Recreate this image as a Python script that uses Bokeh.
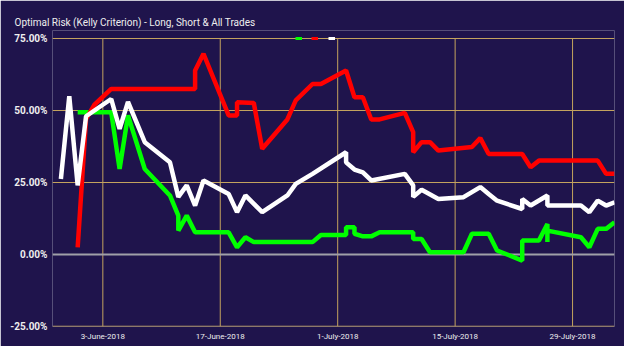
from datetime import datetime
from bokeh.plotting import figure
from bokeh.models import (FixedTicker, DatetimeTickFormatter, PrintfTickFormatter,
                          Span, Legend, LegendItem, Title, Range1d, ColumnDataSource)
from bokeh.embed import file_html
from bokeh.resources import INLINE

# ---------------- data ----------------
title_text = "Optimal Risk (Kelly Criterion) - Long, Short & All Trades"

long_dates = ["2018-05-31", "2018-06-04", "2018-06-05", "2018-06-06", "2018-06-08", "2018-06-11",
              "2018-06-12", "2018-06-12", "2018-06-13", "2018-06-14", "2018-06-18", "2018-06-19",
              "2018-06-20", "2018-06-21", "2018-06-28", "2018-06-29", "2018-07-02", "2018-07-02",
              "2018-07-03", "2018-07-03", "2018-07-04", "2018-07-05", "2018-07-06", "2018-07-10",
              "2018-07-10", "2018-07-11", "2018-07-12", "2018-07-16", "2018-07-17", "2018-07-19",
              "2018-07-20", "2018-07-23", "2018-07-23", "2018-07-25", "2018-07-26", "2018-07-26",
              "2018-07-26", "2018-07-30", "2018-07-31", "2018-08-01", "2018-08-02", "2018-08-03"]
long_vals = [49.4, 49.4, 29.7, 48.3, 29.7, 20.5, 13.5, 8.3, 13.5, 7.7, 7.7, 2.5,
             6.0, 4.3, 4.3, 6.8, 6.8, 9.5, 9.5, 7.2, 6.3, 6.3, 7.7, 7.7,
             5.4, 5.4, 0.8, 0.8, 7.2, 7.2, 1.4, -2.1, 4.9, 4.9, 10.6, 4.3,
             8.3, 6.0, 2.5, 8.9, 8.9, 11.2]

short_dates = ["2018-05-31", "2018-06-01", "2018-06-02", "2018-06-04", "2018-06-14", "2018-06-14",
               "2018-06-15", "2018-06-18", "2018-06-19", "2018-06-19", "2018-06-21", "2018-06-22",
               "2018-06-25", "2018-06-26", "2018-06-28", "2018-06-29", "2018-07-02", "2018-07-03",
               "2018-07-04", "2018-07-05", "2018-07-06", "2018-07-09", "2018-07-10", "2018-07-10",
               "2018-07-11", "2018-07-12", "2018-07-13", "2018-07-17", "2018-07-18", "2018-07-19",
               "2018-07-23", "2018-07-24", "2018-07-25", "2018-08-01", "2018-08-02", "2018-08-03"]
short_vals = [2.5, 47.0, 52.0, 57.5, 57.5, 63.9, 69.7, 48.3, 48.3, 52.9, 52.6, 36.7,
              46.9, 53.5, 59.2, 59.2, 63.9, 54.6, 54.6, 46.9, 46.9, 49.2, 42.5, 35.5,
              39.0, 39.0, 36.1, 37.3, 40.4, 34.9, 34.9, 30.3, 32.6, 32.6, 28.0, 28.0]

all_dates = ["2018-05-29", "2018-05-30", "2018-05-31", "2018-06-01", "2018-06-04", "2018-06-05",
             "2018-06-06", "2018-06-08", "2018-06-11", "2018-06-12", "2018-06-13", "2018-06-14",
             "2018-06-15", "2018-06-18", "2018-06-19", "2018-06-20", "2018-06-22", "2018-06-25",
             "2018-06-26", "2018-06-28", "2018-07-02", "2018-07-02", "2018-07-03", "2018-07-04",
             "2018-07-05", "2018-07-09", "2018-07-10", "2018-07-10", "2018-07-11", "2018-07-13",
             "2018-07-16", "2018-07-18", "2018-07-19", "2018-07-20", "2018-07-23", "2018-07-23",
             "2018-07-24", "2018-07-26", "2018-07-26", "2018-07-30", "2018-07-31", "2018-08-01",
             "2018-08-02", "2018-08-03"]
all_vals = [26.2, 55.0, 24.0, 48.0, 54.0, 43.6, 53.0, 39.0, 32.0, 20.0, 24.0, 17.0,
            25.7, 21.0, 14.7, 20.5, 14.7, 20.5, 24.5, 28.0, 35.5, 32.0, 29.5, 28.5,
            25.7, 28.0, 24.0, 20.0, 22.5, 19.3, 19.9, 23.4, 21.0, 18.7, 15.8, 19.3,
            17.0, 20.5, 17.0, 17.0, 14.7, 18.7, 17.0, 18.1]

series_names = ["Long", "Short", "All"]
series_colors = ["#00ff00", "#ff0000", "#ffffff"]

x_tick_dates = ["2018-06-03", "2018-06-17", "2018-07-01", "2018-07-15", "2018-07-29"]
y_ticks = [-25, 0, 25, 50, 75]
x_start, x_end = "2018-05-28", "2018-08-03"

# ---------------- figure ----------------
def to_dt(s):
    return datetime.strptime(s, "%Y-%m-%d")

def to_ms(s):
    return (to_dt(s) - datetime(1970, 1, 1)).total_seconds() * 1000.0

BG = "#1f144c"
GRID = "#c4a35e"

p = figure(width=624, height=346, x_axis_type="datetime",
           x_range=Range1d(to_dt(x_start), to_dt(x_end)), y_range=Range1d(-25, 77.78),
           output_backend="svg", toolbar_location=None,
           background_fill_color=BG, border_fill_color=BG,
           min_border_left=52, min_border_right=10, min_border_top=30, min_border_bottom=20)
p.outline_line_color = None

t = Title(text=title_text, align="left", offset=-38, text_font="Roboto",
          text_font_size="10px", text_font_style="normal", text_color="#eeeeee", standoff=6)
p.add_layout(t, "above")

# axes
p.xaxis.ticker = FixedTicker(ticks=[to_ms(d) for d in x_tick_dates])
fmt = "%-d-%B-%Y"
p.xaxis.formatter = DatetimeTickFormatter(days=fmt, months=fmt, hours=fmt, years=fmt)
p.xaxis.axis_line_color = None
p.xaxis.major_tick_line_color = None
p.xaxis.minor_tick_line_color = None
p.xaxis.major_tick_out = 0
p.xaxis.major_tick_in = 0
p.xaxis.major_label_text_font = "Roboto"
p.xaxis.major_label_text_font_size = "8px"
p.xaxis.major_label_text_color = "#eeeeee"
p.xaxis.major_label_standoff = 5

p.yaxis.ticker = FixedTicker(ticks=y_ticks)
p.yaxis.formatter = PrintfTickFormatter(format="%.2f%%")
p.yaxis.axis_line_color = None
p.yaxis.major_tick_line_color = None
p.yaxis.minor_tick_line_color = None
p.yaxis.major_tick_out = 0
p.yaxis.major_tick_in = 0
p.yaxis.major_label_text_font = "Roboto"
p.yaxis.major_label_text_font_style = "bold"
p.yaxis.major_label_text_font_size = "10px"
p.yaxis.major_label_text_color = "#eeeeee"
p.yaxis.major_label_standoff = 5

p.xgrid.grid_line_color = None
p.ygrid.grid_line_color = None

# horizontal gridlines at the y ticks, vertical gridlines at the x ticks (limited to the tick span)
for yv in y_ticks:
    if yv != 0:
        p.add_layout(Span(location=yv, dimension="width", line_color=GRID,
                          line_width=1.5 if yv == min(y_ticks) else 1, level="underlay"))
tick_x = [to_dt(d) for d in x_tick_dates]
p.segment(x0=tick_x, y0=[min(y_ticks)] * len(tick_x), x1=tick_x, y1=[max(y_ticks)] * len(tick_x),
          line_color=GRID, line_width=1, level="underlay")
p.add_layout(Span(location=0, dimension="width", line_color="#a0a0a8", line_width=2,
                  level="underlay"))

# series
data = [(long_dates, long_vals), (short_dates, short_vals), (all_dates, all_vals)]
items = []
for (ds, vs), name, col in zip(data, series_names, series_colors):
    src = ColumnDataSource(dict(x=[to_dt(d) for d in ds], y=vs))
    r = p.line("x", "y", source=src, line_color=col, line_width=4.5)
    items.append(LegendItem(label=name, renderers=[r]))

legend = Legend(items=items, orientation="horizontal", location=(243, 286),
                glyph_width=7, glyph_height=3, label_width=0, label_height=0,
                label_standoff=0, spacing=7, padding=0, margin=0,
                label_text_font_size="1px", label_text_color=BG, label_text_alpha=0,
                border_line_color=None, background_fill_alpha=0)
p.add_layout(legend)

open("out.html", "w").write(file_html(p, INLINE))
